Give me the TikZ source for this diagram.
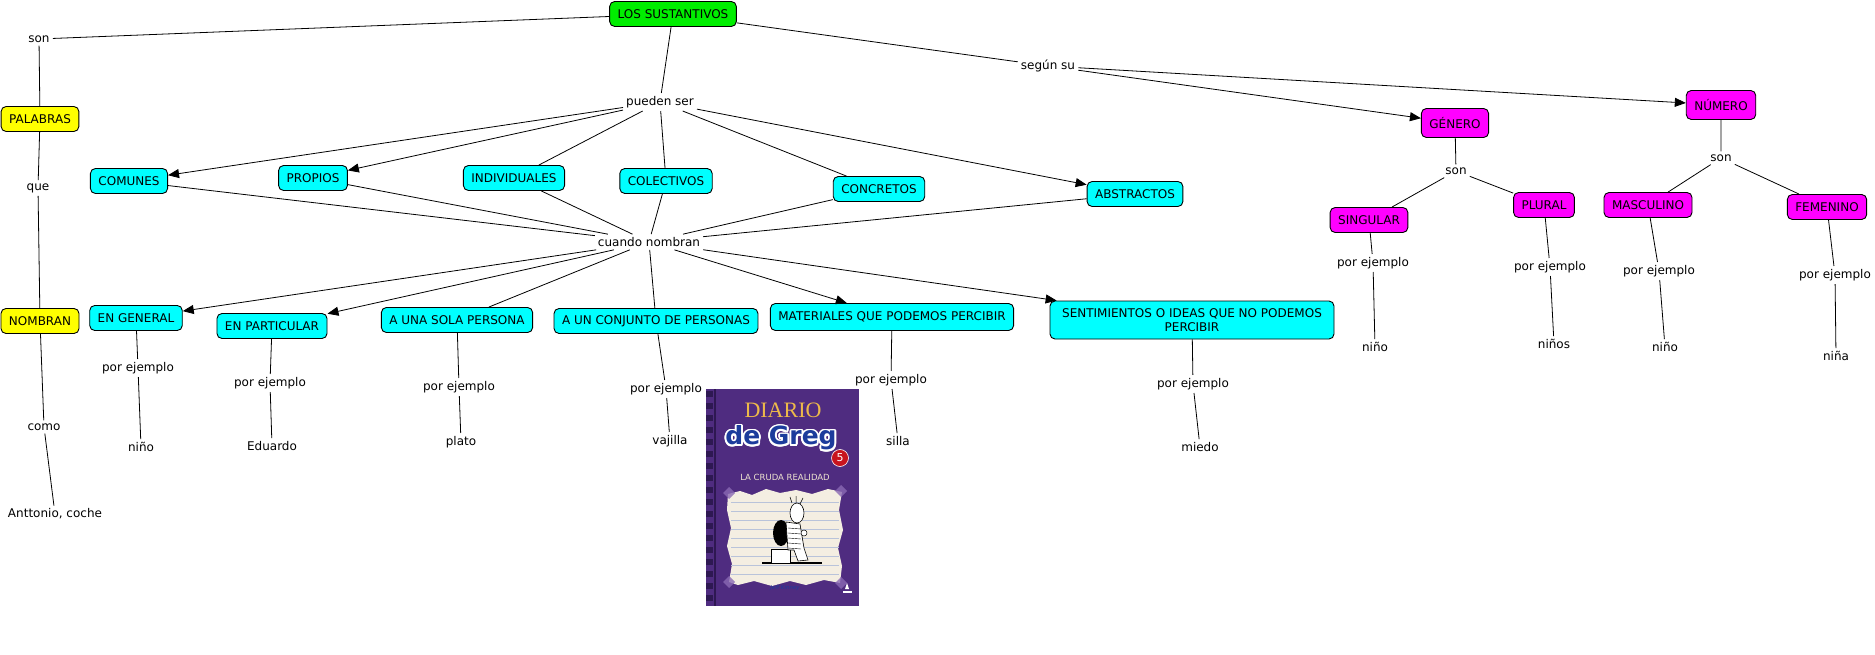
\documentclass[tikz,border=0pt]{standalone}
\usepackage{fontspec}
\setmainfont{DejaVu Sans}
\newfontfamily\coverserif{Liberation Serif}
\usepackage{contour}
\usetikzlibrary{arrows.meta,calc,shapes}
\definecolor{CmGreen}{HTML}{00EE00}
\definecolor{CmCyan}{HTML}{00FFFF}
\definecolor{CmYellow}{HTML}{FFFF00}
\definecolor{CmMagenta}{HTML}{FF00FF}
\definecolor{BookPurple}{HTML}{4F2C80}
\definecolor{BookDark}{HTML}{2E1852}
\definecolor{BookLilac}{HTML}{8A6AB4}
\definecolor{BookGold}{HTML}{EDB94A}
\definecolor{BookBlue}{HTML}{1C3C9C}
\definecolor{BookRed}{HTML}{C8141E}
\definecolor{BookCream}{HTML}{EDE2CF}
\definecolor{BookPaper}{HTML}{F4EEE2}
\definecolor{BookLine}{HTML}{B9C3DA}
\tikzset{
    concept/.style = {draw, line width=0.9pt, rounded corners=5pt,
        minimum height=25pt, inner xsep=8pt,
        font=\fontsize{12}{14}\selectfont},
    phrase/.style = {inner sep=3pt, font=\fontsize{12}{14}\selectfont},
    line/.style = {draw, line width=0.8pt},
    arrow/.style = {draw, line width=0.8pt, -{Triangle[length=11pt,width=9pt]}}
}
\contourlength{1.8pt}
\begin{document}
\begin{tikzpicture}[x=1pt,y=-1pt]
    \path[use as bounding box, fill=white] (0,0) rectangle (1875,655);
    % concepts
    \node[concept, fill=CmGreen] (sust) at (673,14) {LOS SUSTANTIVOS};
    \node[concept, fill=CmYellow] (palabras) at (40,119) {PALABRAS};
    \node[concept, fill=CmYellow] (nombran) at (40,321) {NOMBRAN};
    \node[concept, fill=CmCyan] (comunes) at (129,181) {COMUNES};
    \node[concept, fill=CmCyan] (propios) at (313,178) {PROPIOS};
    \node[concept, fill=CmCyan] (individuales) at (514,178) {INDIVIDUALES};
    \node[concept, fill=CmCyan] (colectivos) at (666,181) {COLECTIVOS};
    \node[concept, fill=CmCyan] (concretos) at (879,189) {CONCRETOS};
    \node[concept, fill=CmCyan] (abstractos) at (1135,194) {ABSTRACTOS};
    \node[concept, fill=CmCyan] (general) at (136,318) {EN GENERAL};
    \node[concept, fill=CmCyan] (particular) at (272,326) {EN PARTICULAR};
    \node[concept, fill=CmCyan] (sola) at (457,320) {A UNA SOLA PERSONA};
    \node[concept, fill=CmCyan] (conjunto) at (656,321) {A UN CONJUNTO DE PERSONAS};
    \node[concept, fill=CmCyan, minimum height=27pt] (materiales) at (892,317) {MATERIALES QUE PODEMOS PERCIBIR};
    \node[concept, fill=CmCyan, minimum width=284pt, minimum height=38pt, align=center] (sentimientos) at (1192,320) {SENTIMIENTOS O IDEAS QUE NO PODEMOS\\PERCIBIR};
    \node[concept, fill=CmMagenta, minimum height=29pt] (genero) at (1455,123) {GÉNERO};
    \node[concept, fill=CmMagenta, minimum height=29pt] (numero) at (1721,105) {NÚMERO};
    \node[concept, fill=CmMagenta] (singular) at (1369,220) {SINGULAR};
    \node[concept, fill=CmMagenta] (plural) at (1544,205) {PLURAL};
    \node[concept, fill=CmMagenta] (masculino) at (1648,205) {MASCULINO};
    \node[concept, fill=CmMagenta] (femenino) at (1827,207) {FEMENINO};
    % linking phrases
    \node[phrase] (son) at (39,39) {son};
    \node[phrase] (que) at (38,188) {que};
    \node[phrase] (como) at (44,427) {como};
    \node[phrase] (antonio) at (55,514) {Anttonio, coche};
    \node[phrase] (pueden) at (660,102) {pueden ser};
    \node[phrase] (cuando) at (649,242) {cuando nombran};
    \node[phrase] (segun) at (1048,66) {según su};
    \node[phrase] (songen) at (1456,171) {son};
    \node[phrase] (sonnum) at (1721,158) {son};
    \node[phrase] (ejgen) at (138,368) {por ejemplo};
    \node[phrase] (ejpar) at (270,383) {por ejemplo};
    \node[phrase] (ejsol) at (459,387) {por ejemplo};
    \node[phrase] (ejcon) at (666,389) {por ejemplo};
    \node[phrase] (ejmat) at (891,380) {por ejemplo};
    \node[phrase] (ejsen) at (1193,384) {por ejemplo};
    \node[phrase] (ejsin) at (1373,263) {por ejemplo};
    \node[phrase] (ejplu) at (1550,267) {por ejemplo};
    \node[phrase] (ejmas) at (1659,271) {por ejemplo};
    \node[phrase] (ejfem) at (1835,275) {por ejemplo};
    \node[phrase] (ninogen) at (141,447) {niño};
    \node[phrase] (eduardo) at (272,446) {Eduardo};
    \node[phrase] (plato) at (461,442) {plato};
    \node[phrase] (vajilla) at (670,441) {vajilla};
    \node[phrase] (silla) at (898,441) {silla};
    \node[phrase] (miedo) at (1200,447) {miedo};
    \node[phrase] (ninosin) at (1375,347) {niño};
    \node[phrase] (ninos) at (1554,344) {niños};
    \node[phrase] (ninomas) at (1665,347) {niño};
    \node[phrase] (nina) at (1836,356) {niña};
    % connectors
    \draw[line] (sust) -- (son) -- (palabras) -- (que) -- (nombran) -- (como) -- (antonio);
    \draw[line] (sust) -- (pueden);
    \draw[line] (sust) -- (segun);
    \foreach \c in {comunes,propios,abstractos} \draw[arrow] (pueden) -- (\c);
    \foreach \c in {individuales,colectivos,concretos} \draw[line] (pueden) -- (\c);
    \foreach \c in {comunes,propios,individuales,colectivos,concretos,abstractos} \draw[line] (\c) -- (cuando);
    \foreach \c in {general,particular,materiales,sentimientos} \draw[arrow] (cuando) -- (\c);
    \foreach \c in {sola,conjunto} \draw[line] (cuando) -- (\c);
    \draw[arrow] (segun) -- (genero);
    \draw[arrow] (segun) -- (numero);
    \draw[line] (singular) -- (songen) -- (plural) (genero) -- (songen);
    \draw[line] (masculino) -- (sonnum) -- (femenino) (numero) -- (sonnum);
    \foreach \a/\b/\c in {general/ejgen/ninogen, particular/ejpar/eduardo, sola/ejsol/plato,
        conjunto/ejcon/vajilla, materiales/ejmat/silla, sentimientos/ejsen/miedo,
        singular/ejsin/ninosin, plural/ejplu/ninos, masculino/ejmas/ninomas, femenino/ejfem/nina}
        \draw[line] (\a) -- (\b) -- (\c);
    % book cover
    \fill[BookPurple] (706,389) rectangle (859,606);
    \foreach \yy in {391,403,...,600} \fill[BookDark] (706,\yy) rectangle (713,\yy+6);
    \fill[BookDark] (714,389) rectangle (716,606);
    \node[text=BookGold, font=\coverserif\fontsize{22}{22}\selectfont] (diario) at (783,410) {DIARIO};
    \node[text=BookBlue, font=\bfseries\fontsize{25}{25}\selectfont] (greg) at (781,439) {\contour{white}{de Greg}};
    \fill[BookRed, draw=white, line width=0.6pt] (840,458) circle (8.5);
    \node[text=white, font=\fontsize{11}{11}\selectfont] (cinco) at (840,458) {5};
    \node[text=BookCream, font=\fontsize{8.5}{9}\selectfont] (cruda) at (785,477) {LA CRUDA REALIDAD};
    \fill[BookPaper] (728,494) -- (740,491) -- (752,495) -- (766,489) -- (780,493) -- (796,490)
        -- (812,494) -- (828,489) -- (842,492) -- (839,510) -- (843,530) -- (838,548) -- (842,566)
        -- (840,583) -- (824,580) -- (806,585) -- (790,581) -- (772,586) -- (754,581) -- (738,585)
        -- (729,582) -- (732,564) -- (727,546) -- (731,528) -- (727,510) -- cycle;
    \foreach \yy in {502,511,...,575} \draw[BookLine, line width=0.4pt] (731,\yy) -- (839,\yy);
    \foreach \p in {(729,493),(841,491),(729,582),(841,583)}
        \fill[BookLilac, opacity=0.8] \p ++(-6,0) -- ++(6,-6) -- ++(6,6) -- ++(-6,6) -- cycle;
    \draw[black, line width=1.2pt] (762,563) -- (822,563);
    \fill[white, draw=black, line width=0.6pt] (771,549) rectangle (790,563);
    \fill[black] (781,533) ellipse (8 and 13);
    \fill[white, draw=black, line width=0.6pt] (786,522) -- (800,524) -- (804,548) -- (808,560)
        -- (798,561) -- (794,550) -- (788,550) -- cycle;
    \foreach \yy in {528,533,...,548} \draw[black, line width=0.4pt] (788,\yy) -- (801,\yy+1);
    \fill[white, draw=black, line width=0.6pt] (797,513) ellipse (7 and 10);
    \draw[black, line width=0.5pt] (792,503) -- (790,497) (796,503) -- (796,496) (800,504) -- (803,498);
    \fill[white, draw=black, line width=0.5pt] (804,533) circle (3);
    \node[text=BookBlue, font=\itshape\fontsize{5.5}{6}\selectfont] (kinney) at (785,588) {Jeff Kinney};
    \fill[white] (847,583) -- (849,589) -- (845,589) -- cycle;
    \fill[white] (843,591) rectangle (852,593);
\end{tikzpicture}
\end{document}
